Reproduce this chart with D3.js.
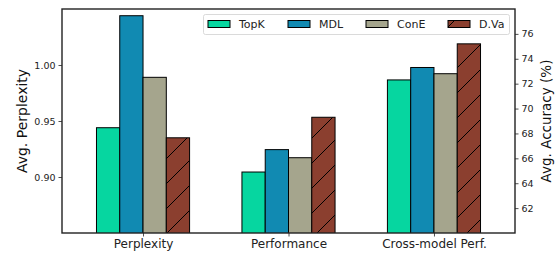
<!DOCTYPE html>
<html>
<head>
<meta charset="utf-8">
<script src="https://cdn.jsdelivr.net/npm/d3@7.9.0/dist/d3.min.js"></script>
<style>
  body { margin: 0; background: #fff; }
  svg { display: block; font-family: "DejaVu Sans", sans-serif; }
</style>
</head>
<body>
<div id="chart"></div>
<script>
// data
const groups = ['Perplexity', 'Performance', 'Cross-model Perf.'];
const methods = ['TopK', 'MDL', 'ConE', 'D.Va'];
const colors = ['#06d6a0', '#118ab2', '#a5a58d', '#8b3f2f'];
// first group is perplexity (left axis), other two are accuracy (right axis)
const perplexity = [0.944, 1.044, 0.989, 0.935];
const performance = [64.9, 66.7, 66.05, 69.3];
const crossModel = [72.3, 73.3, 72.8, 75.2];
const leftTicks = [0.90, 0.95, 1.00];
const rightTicks = [62, 64, 66, 68, 70, 72, 74, 76];

const width = 556;
const height = 255;
const margin = { top: 9, right: 41, bottom: 22, left: 62 };
const usable = {
  left: margin.left,
  right: width - margin.right,
  top: margin.top,
  bottom: height - margin.bottom,
};

const svg = d3.select('#chart')
  .append('svg')
  .attr('width', width)
  .attr('height', height);

const xScale = d3.scaleLinear().domain([-0.557, 2.557]).range([usable.left, usable.right]);
const yLeft = d3.scaleLinear().domain([0.85, 1.05]).range([usable.bottom, usable.top]);
const yRight = d3.scaleLinear().domain([60, 78]).range([usable.bottom, usable.top]);
const barW = 0.16;

// hatch pattern
const defs = svg.append('defs');
const pat = defs.append('pattern')
  .attr('id', 'hatch')
  .attr('patternUnits', 'userSpaceOnUse')
  .attr('width', 25)
  .attr('height', 25);
pat.append('rect').attr('width', 25).attr('height', 25).attr('fill', colors[3]);
pat.append('path')
  .attr('d', 'M0,25 L25,0 M-5,5 L5,-5 M20,30 L30,20')
  .attr('stroke', '#000')
  .attr('stroke-width', 1);

defs.append('clipPath').attr('id', 'plotclip')
  .append('rect')
  .attr('x', usable.left).attr('y', usable.top)
  .attr('width', usable.right - usable.left)
  .attr('height', usable.bottom - usable.top);

const rows = [];
groups.forEach((g, gi) => {
  const vals = gi === 0 ? perplexity : gi === 1 ? performance : crossModel;
  const scale = gi === 0 ? yLeft : yRight;
  methods.forEach((m, mi) => {
    rows.push({ g: gi, m: mi, value: vals[mi], scale });
  });
});

svg.append('g')
  .attr('clip-path', 'url(#plotclip)')
  .selectAll('rect')
  .data(rows)
  .join('rect')
  .attr('x', (d) => xScale(d.g + (d.m - 2) * barW))
  .attr('width', (d) => xScale(barW) - xScale(0))
  .attr('y', (d) => d.scale(d.value))
  .attr('height', (d) => usable.bottom - d.scale(d.value) + 2)
  .attr('fill', (d) => (d.m === 3 ? 'url(#hatch)' : colors[d.m]))
  .attr('stroke', '#000')
  .attr('stroke-width', 1);

// axes
const leftAxis = d3.axisLeft(yLeft).tickValues(leftTicks).tickFormat(d3.format('.2f')).tickSize(3.5).tickPadding(3);
const rightAxis = d3.axisRight(yRight).tickValues(rightTicks).tickSize(3.5).tickPadding(3);
const bottomAxis = d3.axisBottom(xScale).tickValues([0, 1, 2]).tickFormat((d) => groups[d]).tickSize(3.5).tickPadding(3);

const gl = svg.append('g').attr('transform', `translate(${usable.left},0)`).call(leftAxis);
const gr = svg.append('g').attr('transform', `translate(${usable.right},0)`).call(rightAxis);
const gb = svg.append('g').attr('transform', `translate(0,${usable.bottom})`).call(bottomAxis);
[gl, gr, gb].forEach((g) => {
  g.select('.domain').remove();
  g.selectAll('.tick line').attr('stroke', '#222').attr('stroke-width', 0.8);
  g.selectAll('.tick text').attr('fill', '#222').attr('font-family', '"DejaVu Sans", sans-serif');
});
gl.selectAll('.tick text').attr('font-size', 9.5);
gr.selectAll('.tick text').attr('font-size', 9.5);
gb.selectAll('.tick text').attr('font-size', 12);

// frame
svg.append('rect')
  .attr('x', usable.left).attr('y', usable.top)
  .attr('width', usable.right - usable.left)
  .attr('height', usable.bottom - usable.top)
  .attr('fill', 'none')
  .attr('stroke', '#222')
  .attr('stroke-width', 1.4);

// axis labels
svg.append('text')
  .attr('transform', `translate(22,${(usable.top + usable.bottom) / 2}) rotate(-90)`)
  .attr('text-anchor', 'middle')
  .attr('dominant-baseline', 'central')
  .attr('font-size', 14)
  .attr('fill', '#111')
  .text('Avg. Perplexity');

svg.append('text')
  .attr('transform', `translate(546,${(usable.top + usable.bottom) / 2}) rotate(-90)`)
  .attr('text-anchor', 'middle')
  .attr('dominant-baseline', 'central')
  .attr('font-size', 13.5)
  .attr('fill', '#111')
  .text('Avg. Accuracy (%)');

// legend
const legend = svg.append('g');
legend.append('rect')
  .attr('x', 203.5).attr('y', 14.5)
  .attr('width', 306).attr('height', 20)
  .attr('rx', 2)
  .attr('fill', '#fff')
  .attr('fill-opacity', 0.85)
  .attr('stroke', '#d0d0d0')
  .attr('stroke-width', 0.8);
const legendX = [208, 288, 366, 448];
methods.forEach((m, i) => {
  legend.append('rect')
    .attr('x', legendX[i]).attr('y', 20.5)
    .attr('width', 22).attr('height', 7)
    .attr('fill', i === 3 ? 'url(#hatch)' : colors[i])
    .attr('stroke', '#000')
    .attr('stroke-width', 1);
  legend.append('text')
    .attr('x', legendX[i] + 31).attr('y', 24.5)
    .attr('dominant-baseline', 'central')
    .attr('font-size', 11)
    .attr('fill', '#222')
    .text(m);
});
</script>
</body>
</html>
